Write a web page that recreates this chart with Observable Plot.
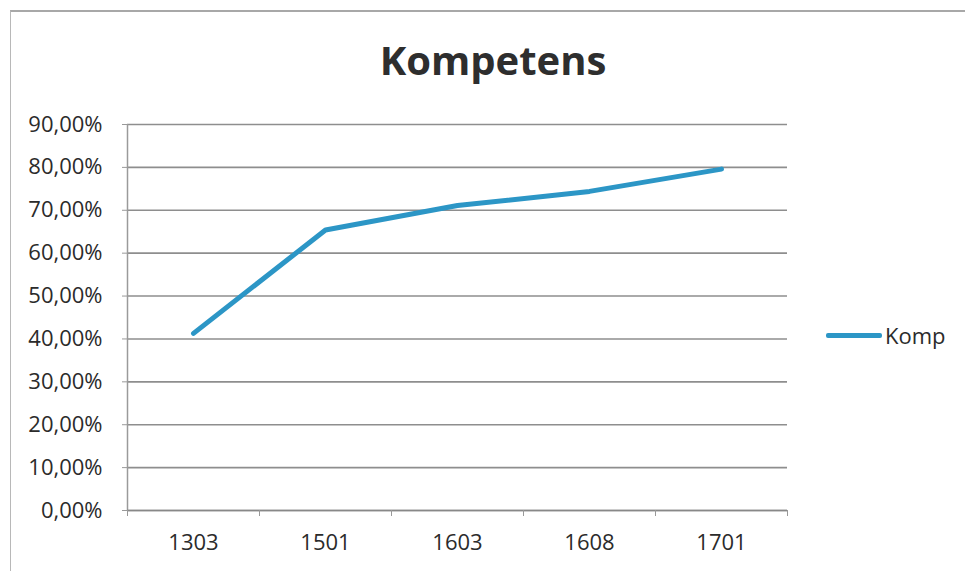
<!DOCTYPE html>
<html>
<head>
<meta charset="utf-8">
<script src="https://cdn.jsdelivr.net/npm/d3@7"></script>
<script src="https://cdn.jsdelivr.net/npm/@observablehq/plot@0.6"></script>
<style>
  html, body { margin: 0; padding: 0; background: #fff; }
  #wrap { position: relative; width: 965px; height: 571px; overflow: hidden; font-family: "Open Sans", sans-serif; color: #2b2b2b; }
  #border { position: absolute; left: 10px; top: 10px; width: 970px; height: 580px; border-left: 1.5px solid #b8b8b8; border-top: 2px solid #a8a8a8; box-sizing: border-box; }
  #title { position: absolute; left: 0; width: 986px; top: 32px; text-align: center; font-size: 40px; font-weight: 700; color: #2e2e2e; }
  #legend { position: absolute; left: 826px; top: 320px; display: flex; align-items: center; font-size: 22px; }
  #legend .sw { width: 56px; height: 5px; background: #2c96c6; border-radius: 2px; margin-right: 3px; }
  svg { position: absolute; left: 0; top: 0; }
</style>
</head>
<body>
<div id="wrap">
  <div id="border"></div>
  <div id="title">Kompetens</div>
  <div id="legend"><div class="sw"></div><span>Komp</span></div>
</div>
<script>
const categories = ["1303", "1501", "1603", "1608", "1701"];
const kompValues = [0.413, 0.654, 0.711, 0.744, 0.796];
const yTicks = [0, 0.1, 0.2, 0.3, 0.4, 0.5, 0.6, 0.7, 0.8, 0.9];
const seriesName = "Komp";

const data = categories.map((c, i) => ({i, cat: c, value: kompValues[i]}));
const xDomain = [-0.5, categories.length - 0.5];
const boundaries = d3.range(categories.length + 1).map(k => k - 0.5);
const fmt = d => (d * 100).toFixed(2).replace(".", ",") + "%";

const chart = Plot.plot({
  width: 965,
  height: 571,
  marginLeft: 127,
  marginRight: 178,
  marginTop: 124,
  marginBottom: 61,
  style: { fontFamily: "Open Sans", fontSize: "22px", color: "#2b2b2b", background: "transparent" },
  x: { type: "linear", domain: xDomain },
  y: { domain: [0, 0.9] },
  marks: [
    Plot.ruleY(yTicks, { stroke: "#8e8e8e", strokeWidth: 1.6 }),
    Plot.ruleX([xDomain[0]], { stroke: "#9a9a9a", strokeWidth: 1.5 }),
    Plot.ruleY([0], { stroke: "#888", strokeWidth: 1.6 }),
    Plot.axisY({ ticks: yTicks, tickFormat: fmt, tickSize: 5, tickPadding: 20, fontSize: 22, label: null, stroke: "#999" }),
    Plot.axisX({ ticks: boundaries, tickFormat: () => "", tickSize: 6, label: null, stroke: "#999" }),
    Plot.axisX({ ticks: d3.range(categories.length), tickFormat: i => categories[i], tickSize: 0, tickPadding: 24, fontSize: 22, label: null }),
    Plot.line(data, { x: "i", y: "value", stroke: "#2c96c6", strokeWidth: 5, strokeLinejoin: "round", strokeLinecap: "round" })
  ]
});
document.getElementById("wrap").appendChild(chart);
</script>
</body>
</html>
